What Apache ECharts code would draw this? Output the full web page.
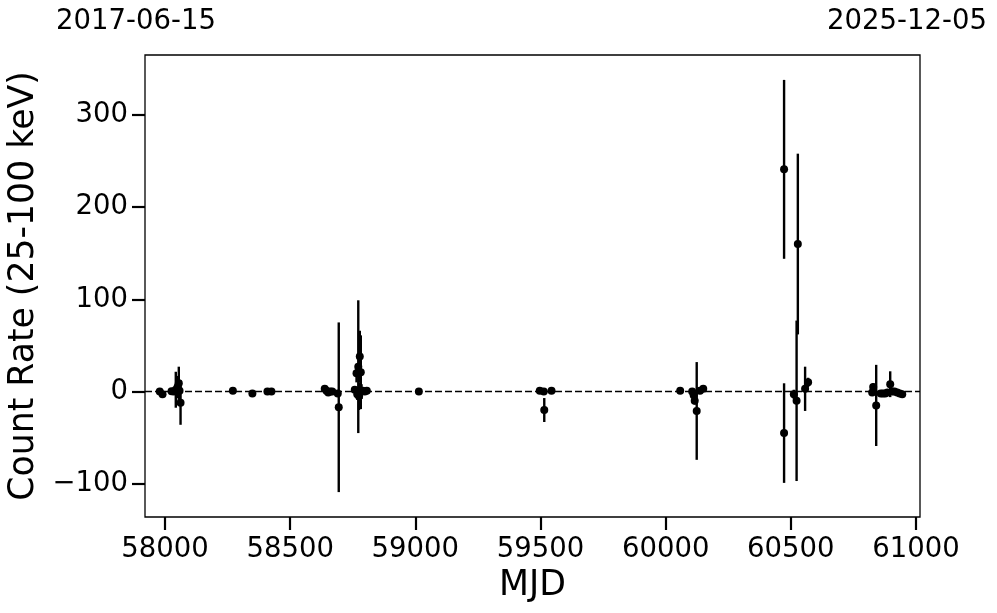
<!DOCTYPE html>
<html>
<head>
<meta charset="utf-8">
<script src="https://cdn.jsdelivr.net/npm/echarts@6/dist/echarts.min.js"></script>
<style>
  html, body { margin: 0; padding: 0; background: #fff; }
  #chart { width: 997px; height: 613px; }
</style>
</head>
<body>
<div id="chart"></div>
<script>
// observation times (MJD), count rate and 1-sigma error
const mjd = [
  57979, 57990, 58026, 58035, 58043, 58050, 58055, 58058, 58062,
  58271, 58349, 58409, 58425,
  58638, 58645, 58652, 58660, 58668, 58690, 58694,
  58758, 58765, 58768, 58772, 58775, 58778, 58782, 58785, 58790, 58798, 58806,
  59014,
  59497, 59513, 59515, 59544,
  60058, 60106, 60112, 60116, 60124, 60137, 60150,
  60473, 60473, 60512, 60523, 60528, 60557, 60569,
  60825, 60829, 60841, 60859, 60868, 60877, 60886, 60897, 60905, 60914, 60925, 60935, 60945
]
const rate = [
  0, -3, 0.5, 0, 2, 5, 9, 1, -12,
  1, -2, 0, 0,
  3, 1, -1, 0, 0, -2, -17,
  2, 20, -3, 27, -5, 38, 21, 0, 1, 0, 1,
  0,
  1, 0, -20, 1,
  1, 0, -4, -10, -21, 1, 3,
  241, -45, -3, -10, 160, 3, 10,
  -1, 5, -15, -2, -2, -2, -1, 8, 0, 0, -1, -2, -3
]
const rateErr = [
  1.5, 1.5, 2, 3, 19.5, 12, 18, 4, 24,
  1.5, 1, 1, 1,
  2, 2, 2, 2, 2, 3, 92,
  3, 10, 6, 72, 15, 28, 40, 8, 4, 2, 2,
  1.5,
  2, 2, 13, 2,
  2, 2, 3, 4, 53, 2, 2,
  97, 54, 5, 87, 98, 24, 5,
  3, 4, 44, 2, 2, 2, 2, 14, 2, 2, 2, 2, 2
]
const xTicks = [58000, 58500, 59000, 59500, 60000, 60500, 61000]
const yTicks = [-100, 0, 100, 200, 300]
const dateStart = '2017-06-15'
const dateEnd = '2025-12-05'

const points = mjd.map((m, i) => [m, rate[i], rateErr[i]])
const font = 'DejaVu Sans'

const chart = echarts.init(document.getElementById('chart'))
chart.setOption({
  animation: false,
  backgroundColor: '#fff',
  grid: {
    left: 145,
    right: 77,
    top: 55,
    bottom: 96,
    outerBoundsMode: 'none',
    containLabel: false,
    show: true,
    borderColor: '#000',
    borderWidth: 1.3
  },
  graphic: [
    {
      type: 'text',
      style: { text: dateStart, fontSize: 27.5, fontFamily: font, fill: '#000', align: 'center', verticalAlign: 'middle' },
      x: 136, y: 22
    },
    {
      type: 'text',
      style: { text: dateEnd, fontSize: 27.5, fontFamily: font, fill: '#000', align: 'center', verticalAlign: 'middle' },
      x: 907, y: 22
    }
  ],
  xAxis: {
    type: 'value',
    min: 57920,
    max: 61016,
    name: 'MJD',
    nameLocation: 'middle',
    nameGap: 50,
    nameTextStyle: { fontSize: 34.7, fontFamily: font, color: '#000' },
    axisLine: { show: false, onZero: false },
    splitLine: { show: false },
    axisTick: {
      show: true,
      length: 13,
      customValues: xTicks,
      lineStyle: { color: '#000', width: 2.2 }
    },
    axisLabel: {
      customValues: xTicks,
      margin: 19,
      fontSize: 27.5,
      fontFamily: font,
      color: '#000',
      formatter: v => String(v)
    }
  },
  yAxis: {
    type: 'value',
    min: -136,
    max: 365,
    name: 'Count Rate (25-100 keV)',
    nameLocation: 'middle',
    nameGap: 87,
    nameTextStyle: { fontSize: 34.7, fontFamily: font, color: '#000' },
    axisLine: { show: false, onZero: false },
    splitLine: { show: false },
    axisTick: {
      show: true,
      length: 13,
      customValues: yTicks,
      lineStyle: { color: '#000', width: 2.2 }
    },
    axisLabel: {
      customValues: yTicks,
      margin: 17,
      fontSize: 27.5,
      fontFamily: font,
      color: '#000',
      formatter: v => String(v).replace('-', '\u2212')
    }
  },
  series: [
    {
      // error bars
      type: 'custom',
      data: points,
      silent: true,
      renderItem: (params, api) => {
        const x = api.value(0)
        const y = api.value(1)
        const e = api.value(2)
        const top = api.coord([x, y + e])
        const bot = api.coord([x, y - e])
        return {
          type: 'line',
          shape: { x1: top[0], y1: top[1], x2: bot[0], y2: bot[1] },
          style: { stroke: '#000', lineWidth: 2.4 }
        }
      },
      z: 3
    },
    {
      type: 'scatter',
      data: points,
      symbol: 'circle',
      symbolSize: 8,
      itemStyle: { color: '#000', opacity: 1 },
      z: 4,
      markLine: {
        silent: true,
        symbol: 'none',
        label: { show: false },
        lineStyle: { color: '#000', type: [7, 3], width: 1.3 },
        data: [{ yAxis: 0 }]
      }
    }
  ]
})
</script>
</body>
</html>
